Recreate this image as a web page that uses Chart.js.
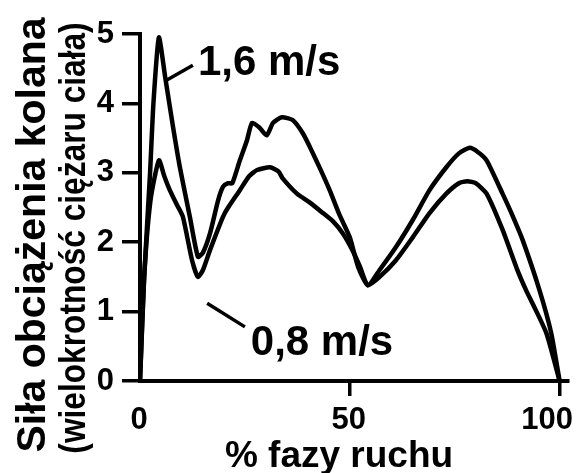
<!DOCTYPE html>
<html>
<head>
<meta charset="utf-8">
<script src="https://cdn.jsdelivr.net/npm/chart.js@4"></script>
<style>
  html,body{margin:0;padding:0;background:#fff;}
  #wrap{width:581px;height:473px;}
</style>
</head>
<body>
<div id="wrap"><canvas id="c" width="581" height="473"></canvas></div>
<script>
// ====== DATA ======
const fastX = [0, 1, 2.4, 3.2, 4.5, 6, 7.9, 9.5, 11.9, 13.8, 15, 16.7, 18.6, 19.8, 21, 22, 23.8, 25.5, 26.7, 28.5, 30.2, 31.7, 33.8, 36.4, 38.8, 40.5, 43, 45.2, 47.5, 50, 52, 54.3, 57.1, 61, 65, 69, 73, 76, 78.6, 80.5, 82.6, 86.4, 88.8, 91.2, 95.2, 98, 100];
const fastY = [0, 1.5, 3.0, 4.0, 4.95, 4.38, 3.65, 3.08, 2.36, 1.79, 1.85, 2.13, 2.6, 2.8, 2.85, 2.85, 3.18, 3.47, 3.72, 3.65, 3.54, 3.72, 3.8, 3.76, 3.57, 3.37, 3.05, 2.75, 2.4, 2.07, 1.64, 1.38, 1.6, 1.93, 2.32, 2.75, 3.08, 3.28, 3.36, 3.3, 3.18, 2.7, 2.38, 2.03, 1.31, 0.69, 0];

const slowX = [0, 1, 2.5, 4.5, 5.8, 7.1, 8.7, 10.2, 12.4, 13.8, 15, 16.7, 19.8, 21, 23.8, 26, 27.9, 31, 33, 34, 37.4, 40.5, 43.6, 46, 48.3, 50.5, 52.4, 54.3, 57.1, 61, 65, 69, 73, 76, 78, 80, 82.6, 86.4, 89.8, 92, 94.5, 96.9, 100];
const slowY = [0, 1.5, 2.6, 3.18, 2.95, 2.75, 2.55, 2.37, 1.74, 1.5, 1.6, 1.89, 2.37, 2.5, 2.75, 2.95, 3.04, 3.08, 3.02, 2.92, 2.7, 2.57, 2.42, 2.3, 2.13, 1.9, 1.65, 1.38, 1.5, 1.74, 2.07, 2.42, 2.7, 2.85, 2.88, 2.85, 2.7, 2.18, 1.62, 1.31, 1.0, 0.68, 0];

const xTicks = [0, 50, 100];
const yTicks = [0, 1, 2, 3, 4, 5];

const seriesNames = ['1,6 m/s', '0,8 m/s'];
// label anchor (text start, baseline) and leader line, in data units
const labelPos = [{x: 13.8, y: 4.41}, {x: 26.4, y: 0.37}];
const leaders = [[{x: 6.2, y: 4.33}, {x: 12.6, y: 4.55}], [{x: 16.0, y: 1.12}, {x: 25.0, y: 0.78}]];

const yTitle1 = 'Siła obciążenia kolana';
const yTitle2 = '(wielokrotność ciężaru ciała)';
const xTitle = '% fazy ruchu';

// ====== HELPERS ======
const FONT = '"Liberation Sans", Arial, Helvetica, sans-serif';
const toPts = (xs, ys) => xs.map((x, i) => ({x, y: ys[i]}));

const annotate = {
  id: 'annotate',
  afterDraw(chart){
    const ctx = chart.ctx, xs = chart.scales.x, ys = chart.scales.y;
    ctx.save();
    ctx.fillStyle = '#000'; ctx.strokeStyle = '#000';

    // x tick labels, kept inside the canvas
    ctx.font = `bold 31px ${FONT}`;
    ctx.textAlign = 'center'; ctx.textBaseline = 'alphabetic';
    xTicks.forEach(v => {
      const t = String(v);
      const w = ctx.measureText(t).width;
      const px = Math.min(xs.getPixelForValue(v), chart.width - 7 - w / 2);
      ctx.fillText(t, px - 1, 429);
    });

    // x title
    ctx.font = `bold 37px ${FONT}`;
    ctx.fillText(xTitle, 339, 467);

    // y titles (rotated)
    ctx.save();
    ctx.translate(45, 235);
    ctx.rotate(-Math.PI / 2);
    ctx.font = `bold 41px ${FONT}`;
    ctx.fillText(yTitle1, 0, 0);
    ctx.restore();

    ctx.save();
    ctx.translate(85, 238);
    ctx.rotate(-Math.PI / 2);
    ctx.scale(0.88, 1);
    ctx.font = `bold 36px ${FONT}`;
    ctx.fillText(yTitle2, 0, 0);
    ctx.restore();

    // series labels + leader lines
    ctx.lineWidth = 3.5;
    leaders.forEach(l => {
      ctx.beginPath();
      ctx.moveTo(xs.getPixelForValue(l[0].x), ys.getPixelForValue(l[0].y));
      ctx.lineTo(xs.getPixelForValue(l[1].x), ys.getPixelForValue(l[1].y));
      ctx.stroke();
    });
    ctx.font = `bold 42px ${FONT}`;
    ctx.textAlign = 'left';
    seriesNames.forEach((s, i) => {
      ctx.fillText(s, xs.getPixelForValue(labelPos[i].x), ys.getPixelForValue(labelPos[i].y));
    });
    ctx.restore();
  }
};

const lineDs = (label, pts) => ({
  label, data: pts, showLine: true, borderColor: '#000', borderWidth: 4.5,
  pointRadius: 0, tension: 0.2, fill: false, borderJoinStyle: 'round', borderCapStyle: 'round'
});

new Chart(document.getElementById('c'), {
  type: 'scatter',
  data: {
    datasets: [
      lineDs(seriesNames[0], toPts(fastX, fastY)),
      lineDs(seriesNames[1], toPts(slowX, slowY))
    ]
  },
  options: {
    responsive: false,
    devicePixelRatio: 1,
    animation: false,
    layout: { padding: { top: 34, right: 13, left: 0, bottom: 0 } },
    plugins: { legend: { display: false }, tooltip: { enabled: false } },
    scales: {
      x: {
        type: 'linear', min: 0, max: 102,
        afterBuildTicks: s => { s.ticks = xTicks.map(v => ({value: v})); },
        afterFit: s => { s.height = 92; s.paddingLeft = 0; s.paddingRight = 0; },
        ticks: { display: false },
        grid: { drawOnChartArea: false, drawTicks: true, tickLength: 15, lineWidth: 3.5,
                color: c => (c.tick && c.tick.value === 0) ? 'rgba(0,0,0,0)' : '#000' },
        border: { display: true, color: '#000', width: 4 }
      },
      y: {
        type: 'linear', min: 0, max: 5,
        afterBuildTicks: s => { s.ticks = yTicks.map(v => ({value: v})); },
        afterFit: s => { s.width = 140; s.paddingTop = 0; s.paddingBottom = 0; },
        ticks: { color: '#000', padding: 8, font: { family: FONT, size: 31, weight: 'bold' } },
        grid: { drawOnChartArea: false, drawTicks: true, tickLength: 18, lineWidth: 3.5, color: '#000' },
        border: { display: true, color: '#000', width: 4 }
      }
    }
  },
  plugins: [annotate]
});
</script>
</body>
</html>
